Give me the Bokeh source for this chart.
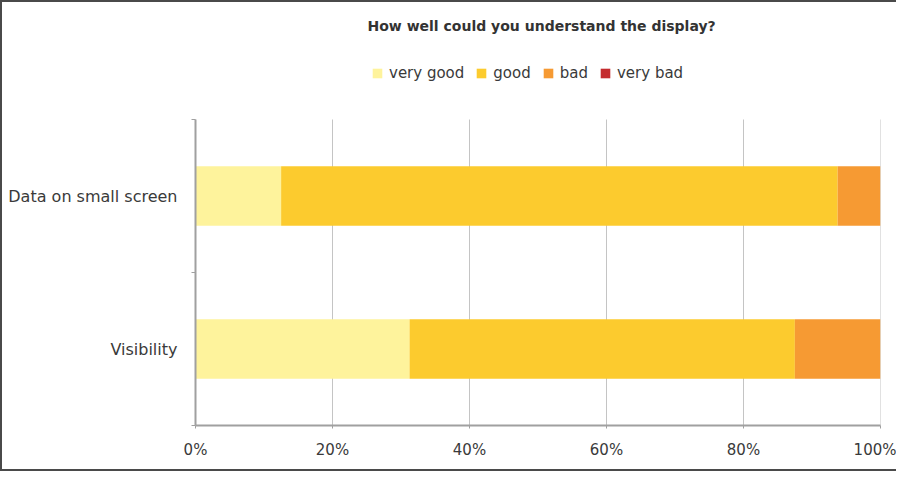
from bokeh.plotting import figure
from bokeh.models import (ColumnDataSource, FixedTicker, Legend, LegendItem, Label,
                          PrintfTickFormatter, Range1d)
from bokeh.embed import file_html
from bokeh.resources import INLINE

# ---- data ----
categories = ["Visibility", "Data on small screen"]   # bottom -> top
very_good = [31.25, 12.5]
good = [56.25, 81.25]
bad = [12.5, 6.25]
very_bad = [0.0, 0.0]
series_names = ["very good", "good", "bad", "very bad"]
series_colors = ["#FEF39C", "#FCCB2E", "#F69A33", "#C42B2E"]
x_ticks = [0, 20, 40, 60, 80, 100]
title_text = "How well could you understand the display?"

FONT = "DejaVu Sans"
TXT = "#3a3a3a"
GRID = "#c4c4c4"
AXIS = "#a0a0a0"

n_cat = len(categories)
positions = [i + 0.5 for i in range(n_cat)]
source = ColumnDataSource(dict(y=positions, very_good=very_good, good=good,
                               bad=bad, very_bad=very_bad))

PLOT_H = 306      # pixel height of the category region
HEADER_H = 117    # space above it for title + legend (inside the frame)
FRAME_H = PLOT_H + HEADER_H

p = figure(frame_width=685, frame_height=FRAME_H,
           x_range=Range1d(0, 100), y_range=Range1d(0, n_cat * FRAME_H / PLOT_H),
           output_backend="svg", toolbar_location=None,
           min_border_left=193, min_border_right=16,
           min_border_top=0, min_border_bottom=44)
p.outline_line_color = None
p.background_fill_color = "white"
p.border_fill_color = "white"
p.styles = {"border-top": "2px solid #4a4a4a", "border-left": "2px solid #4a4a4a",
            "border-bottom": "2px solid #4a4a4a"}

# vertical grid lines limited to the category region
p.segment(x0=x_ticks, y0=[0] * len(x_ticks), x1=x_ticks, y1=[n_cat] * len(x_ticks),
          line_color=GRID, line_width=1)

renderers = p.hbar_stack(["very_good", "good", "bad", "very_bad"], y="y", height=0.39,
                         color=series_colors, line_color=None, source=source)

# axes
xa = p.xaxis[0]
xa.ticker = FixedTicker(ticks=x_ticks)
xa.formatter = PrintfTickFormatter(format="%d%%")
xa.axis_line_color = AXIS
xa.axis_line_width = 2
xa.major_tick_line_color = AXIS
xa.major_tick_in = 0
xa.major_tick_out = 3
xa.minor_tick_line_color = None
xa.major_label_text_font = FONT
xa.major_label_text_font_size = "15px"
xa.major_label_text_color = TXT
xa.major_label_standoff = 12

ya = p.yaxis[0]
ya.bounds = (0, n_cat)
ya.ticker = FixedTicker(ticks=positions, minor_ticks=list(range(n_cat + 1)))
ya.major_label_overrides = {pos: c for pos, c in zip(positions, categories)}
ya.axis_line_color = AXIS
ya.axis_line_width = 2
ya.major_tick_line_color = None
ya.major_tick_out = 0
ya.major_tick_in = 0
ya.minor_tick_line_color = AXIS
ya.minor_tick_out = 4
ya.minor_tick_in = 0
ya.major_label_text_font = FONT
ya.major_label_text_font_size = "16px"
ya.major_label_text_color = TXT
ya.major_label_standoff = 14

p.xgrid.grid_line_color = None
p.ygrid.grid_line_color = None

# title
p.add_layout(Label(x=172, y=FRAME_H - 23, x_units="screen", y_units="screen", text=title_text,
                   text_font=FONT, text_font_style="bold", text_font_size="14px",
                   text_color="#333333", text_baseline="middle", text_align="left"))

# legend
legend = Legend(items=[LegendItem(label=n, renderers=[r]) for n, r in zip(series_names, renderers)],
                orientation="horizontal", location=(176, FRAME_H - 80),
                glyph_width=12, glyph_height=12, label_height=12,
                label_standoff=6, spacing=11, padding=0, margin=0,
                label_text_font=FONT, label_text_font_size="15px", label_text_color=TXT,
                border_line_color=None, background_fill_alpha=0)
p.add_layout(legend, "center")

open("out.html", "w").write(file_html(p, INLINE))
